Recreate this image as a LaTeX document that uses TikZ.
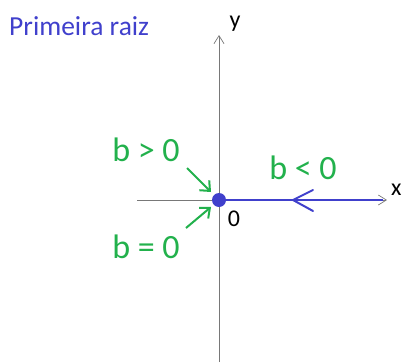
\documentclass[tikz,border=0pt]{standalone}
\usepackage{fontspec}
\setmainfont{Carlito}
\usetikzlibrary{arrows.meta}
\definecolor{rootblue}{RGB}{64,64,204}
\definecolor{bgreen}{RGB}{34,177,76}
\definecolor{axisgray}{RGB}{120,120,120}
\tikzset{
  axis/.style={draw=axisgray, line width=0.9pt, -{Straight Barb[length=8pt,width=10pt,line width=0.7pt]}},
  glabel/.style={text=bgreen, font=\fontsize{34}{36}\selectfont, inner sep=0pt},
  blabel/.style={text=black, font=\fontsize{24}{26}\selectfont, inner sep=0pt},
  garrow/.style={draw=bgreen, line width=2pt, -{Straight Barb[length=8pt,width=14pt,line width=2pt]}},
}
\begin{document}
\begin{tikzpicture}[x=1pt,y=-1pt]
\useasboundingbox (0,0) rectangle (402,362);
% axes
\coordinate (O) at (219,200);
\coordinate (xl) at (137,200);
\coordinate (xr) at (387,200);
\coordinate (yt) at (219,35);
\coordinate (yb) at (219,362);
\draw[axis] (xl) -- (xr);
\draw[axis] (yb) -- (yt);
\node[blabel, anchor=west] (xlab) at (391,190) {x};
\node[blabel] (ylab) at (235,24) {y};
\node[blabel] (zero) at (234,219) {0};
% title
\node[text=rootblue, font=\fontsize{27.5}{29}\selectfont, anchor=west, inner sep=0pt] (title) at (9,26) {Primeira raiz};
% blue ray
\draw[rootblue, line width=2pt] (O) -- (383,200);
\draw[rootblue, line width=2pt, line cap=round, line join=round] (313,190) -- (293,200) -- (313,211);
\fill[rootblue] (O) circle (7);
% green labels
\node[glabel] (bpos) at (146,150) {b > 0};
\node[glabel] (bneg) at (303,168) {b < 0};
\node[glabel] (bzero) at (146,247) {b = 0};
\coordinate (a1s) at (187,168);
\coordinate (a1e) at (211,192);
\coordinate (a2s) at (186,228);
\coordinate (a2e) at (211,207);
\draw[garrow] (a1s) -- (a1e);
\draw[garrow] (a2s) -- (a2e);
\end{tikzpicture}
\end{document}
